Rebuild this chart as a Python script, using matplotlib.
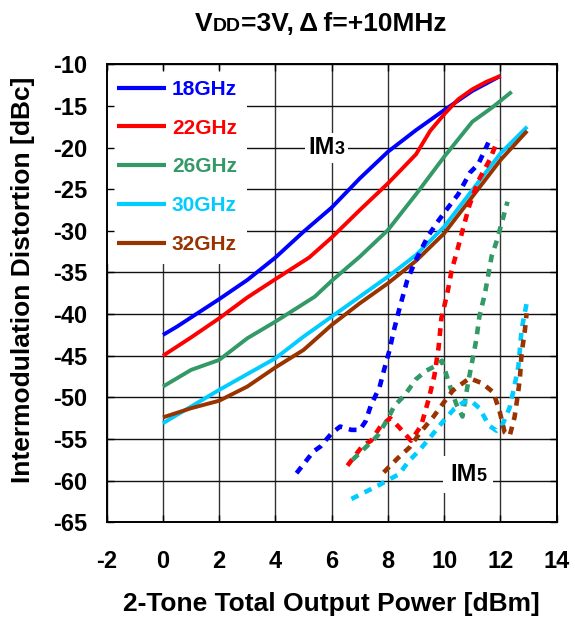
import matplotlib
matplotlib.use("Agg")
import matplotlib.pyplot as plt
from matplotlib.offsetbox import TextArea, HPacker, AnnotationBbox

plt.rcParams['font.family'] = ['Liberation Sans', 'DejaVu Sans']
plt.rcParams['font.weight'] = 'bold'
plt.rcParams['axes.unicode_minus'] = False

# ---------------- data ----------------
labels = ["18GHz", "22GHz", "26GHz", "30GHz", "32GHz"]
colors = ["#0000FF", "#FF0000", "#339966", "#00CCFF", "#993300"]

# IM3 (solid)
im3_18_x = [0, 0.5, 1, 2, 3, 4, 5, 6, 7, 8, 9, 10, 11, 12]
im3_18_y = [-42.5, -41.5, -40.4, -38.2, -35.9, -33.2, -30.1, -27.2, -23.7, -20.5, -17.9, -15.5, -13.2, -11.4]
im3_22_x = [0, 1, 2, 3, 4, 5.2, 6, 7, 8, 9, 9.5, 10, 10.5, 11, 11.5, 12]
im3_22_y = [-45.0, -42.8, -40.5, -38.0, -35.8, -33.2, -30.8, -27.5, -24.3, -20.8, -18.0, -16.0, -14.2, -13.0, -12.1, -11.4]
im3_26_x = [0, 1, 2, 3, 4, 5.4, 6, 7, 8, 9, 10, 11, 11.7, 12.4]
im3_26_y = [-48.7, -46.7, -45.5, -42.9, -40.9, -37.9, -36.0, -33.1, -29.9, -25.6, -21.1, -16.9, -15.2, -13.3]
im3_30_x = [0, 1, 2, 3, 4, 5, 6, 7, 8, 9, 10, 11, 12, 12.95]
im3_30_y = [-53.1, -51.1, -49.1, -47.2, -45.3, -42.7, -40.3, -37.9, -35.5, -32.9, -29.5, -25.1, -20.7, -17.5]
im3_32_x = [0, 1, 2, 3, 4, 5, 6, 7, 8, 9, 10, 11, 12, 12.95]
im3_32_y = [-52.4, -51.3, -50.4, -48.7, -46.4, -44.3, -41.3, -38.7, -36.3, -33.6, -30.3, -25.9, -21.5, -18.0]

# IM5 (dashed)
im5_18_x = [4.75, 5.35, 5.6, 6.0, 6.3, 6.7, 7.0, 7.2, 7.4, 7.7, 7.87, 8.05, 8.2, 8.38, 8.68, 8.95, 9.1, 9.43,
            9.79, 10.14, 10.5, 10.92, 11.21, 11.57]
im5_18_y = [-59.1, -56.5, -55.9, -54.3, -53.5, -53.9, -53.9, -52.9, -50.9, -48.8, -46.6, -44.4, -42.1, -39.7,
            -36.0, -33.8, -32.8, -30.6, -28.8, -27.2, -25.6, -23.0, -22.0, -19.4]
im5_22_x = [6.56, 7.1, 7.4, 7.75, 8.08, 8.4, 8.82, 9.18, 9.45, 9.65, 9.8, 9.9, 10.02, 10.14, 10.26, 10.46,
            10.68, 10.89, 11.21, 11.63, 11.9]
im5_22_y = [-58.2, -55.8, -55.2, -53.4, -52.5, -53.6, -55.2, -53.4, -50.2, -47.4, -44.0, -40.5, -38.8, -37.0,
            -34.8, -32.4, -29.6, -27.0, -24.0, -21.4, -19.1]
im5_26_x = [6.74, 7.33, 7.63, 7.99, 8.23, 8.58, 9.0, 9.36, 9.7, 9.92, 10.2, 10.43, 10.65, 10.85, 11.0, 11.14,
            11.25, 11.45, 11.69, 11.85, 12.05, 12.25]
im5_26_y = [-57.5, -55.6, -54.6, -52.6, -51.0, -49.8, -47.8, -46.8, -46.2, -45.6, -48.6, -50.8, -52.3, -48.2,
            -45.6, -43.1, -40.3, -37.5, -33.0, -31.4, -29.0, -26.5]
im5_30_x = [6.7, 7.7, 8.4, 8.73, 9.13, 9.55, 9.98, 10.35, 10.68, 10.95, 11.25, 11.6, 11.86, 12.07, 12.33, 12.5,
            12.64, 12.75, 12.93]
im5_30_y = [-62.2, -60.5, -59.2, -57.7, -56.3, -54.6, -52.8, -51.4, -50.6, -50.4, -51.3, -53.4, -54.0, -53.3,
            -51.2, -48.6, -46.2, -41.9, -38.7]
im5_32_x = [7.85, 8.35, 8.77, 9.15, 9.6, 10.01, 10.3, 10.45, 10.9, 11.35, 11.75, 11.98, 12.15, 12.33, 12.5,
            12.6, 12.69, 12.75, 12.87, 12.93]
im5_32_y = [-59.0, -57.3, -56.0, -54.2, -52.4, -50.5, -49.2, -48.8, -47.7, -48.3, -49.4, -51.8, -54.2, -54.6,
            -52.4, -50.1, -47.8, -44.8, -41.9, -39.9]

x_ticks = [-2, 0, 2, 4, 6, 8, 10, 12, 14]
y_ticks = [-65, -60, -55, -50, -45, -40, -35, -30, -25, -20, -15, -10]

im3_sets = [(im3_18_x, im3_18_y), (im3_22_x, im3_22_y), (im3_26_x, im3_26_y), (im3_30_x, im3_30_y), (im3_32_x, im3_32_y)]
im5_sets = [(im5_18_x, im5_18_y), (im5_22_x, im5_22_y), (im5_26_x, im5_26_y), (im5_30_x, im5_30_y), (im5_32_x, im5_32_y)]

# ---------------- figure ----------------
W, H = 575, 622
fig = plt.figure(figsize=(W / 100, H / 100), dpi=100)
ax = fig.add_axes([106.7 / W, 1 - 522.3 / H, 450 / W, 458 / H])
ax.set_xlim(-2, 14)
ax.set_ylim(-65, -10)
ax.set_xticks(x_ticks)
ax.set_yticks(y_ticks)

for xv in x_ticks:
    ax.axvline(xv, color="#333333", lw=1.0, zorder=0.5)
for yv in y_ticks:
    ax.axhline(yv, color="#111111", lw=1.0, zorder=0.5)

handles = []
for (xs, ys), c, lab in zip(im3_sets, colors, labels):
    h, = ax.plot(xs, ys, color=c, lw=2.8, label=lab, zorder=2, solid_capstyle='butt')
    handles.append(h)
for (xs, ys), c in zip(im5_sets, colors):
    ax.plot(xs, ys, color=c, lw=3.3, linestyle=(0, (1.7, 1.5)), zorder=2, dash_capstyle='butt')

for s in ax.spines.values():
    s.set_linewidth(1.4)
    s.set_color("black")

ax.tick_params(direction='in', length=5, width=1, top=True, right=True, labelsize=17)
ax.tick_params(axis='x', pad=20)
ax.tick_params(axis='y', pad=14)
for t in ax.get_xticklabels() + ax.get_yticklabels():
    t.set_fontweight('bold')

ax.set_xlabel("2-Tone Total Output Power [dBm]", fontsize=19, fontweight='bold')
ax.set_ylabel("Intermodulation Distortion [dBc]", fontsize=19, fontweight='bold')
ax.xaxis.set_label_coords(0.5, -0.152)
ax.yaxis.set_label_coords(-0.16, 0.53)

leg = ax.legend(handles=handles, loc='upper left', bbox_to_anchor=(0.0, 0.988), fontsize=15,
                frameon=True, fancybox=False, edgecolor='none', facecolor='white', framealpha=1.0,
                handlelength=2.35, handletextpad=0.3, labelspacing=0.95, borderaxespad=0.0,
                borderpad=0.48, labelcolor='linecolor')
leg.set_zorder(1)
for t in leg.get_texts():
    t.set_fontweight('bold')
for lh in leg.legend_handles:
    lh.set_linewidth(3.0)


def packed(pieces):
    areas = [TextArea(s, textprops=dict(fontsize=fs, fontweight='bold', color='black')) for s, fs in pieces]
    return HPacker(children=areas, align='baseline', pad=0, sep=0)


# IM3 / IM5 labels
ab3 = AnnotationBbox(packed([("IM", 17), ("3", 13)]), (5.81, -20.0), xycoords='data',
                     box_alignment=(0.5, 0.5), frameon=True, pad=0.25,
                     bboxprops=dict(facecolor='white', edgecolor='none'), zorder=3)
ax.add_artist(ab3)
ab5 = AnnotationBbox(packed([("IM", 17), ("5", 13)]), (10.85, -59.3), xycoords='data',
                     box_alignment=(0.5, 0.5), frameon=True, pad=0.5,
                     bboxprops=dict(facecolor='white', edgecolor='none'), zorder=3)
ax.add_artist(ab5)

# Title
abt = AnnotationBbox(packed([("V", 19), ("DD", 14), ("=3V,\u2009\u0394\u2009f=+10MHz", 19)]),
                     (320.8 / W, 1 - 24 / H),
                     xycoords='figure fraction', box_alignment=(0.5, 0.5), frameon=False)
fig.add_artist(abt)

fig.savefig("out.png", dpi=100)
